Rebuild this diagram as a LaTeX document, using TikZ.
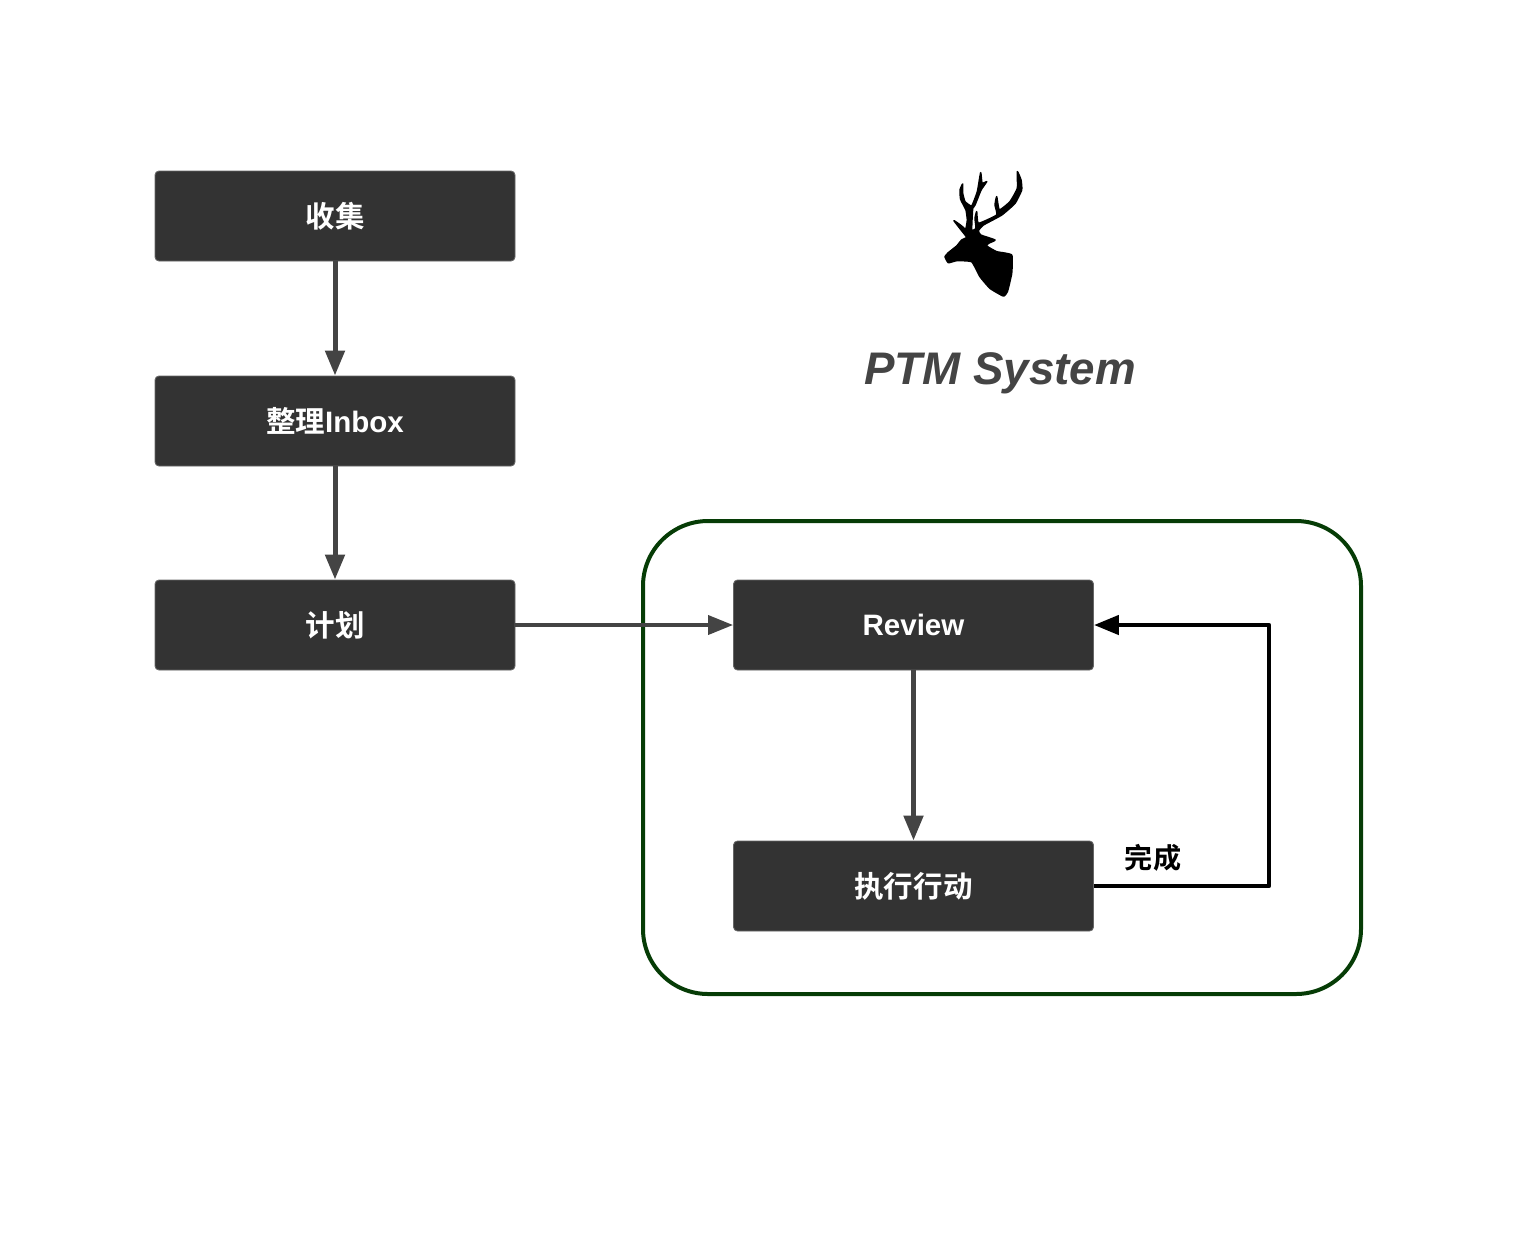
\documentclass[tikz,border=0pt]{standalone}
\usepackage{fontspec}
\usepackage{tikz}
\usetikzlibrary{arrows.meta,calc,positioning}
\setmainfont{Liberation Sans}
\newfontfamily\cjk[BoldFont=* Bold]{Noto Sans CJK SC}
\definecolor{ptmdark}{RGB}{51,51,51}
\definecolor{ptmedge}{RGB}{102,102,102}
\definecolor{ptmline}{RGB}{68,68,68}
\definecolor{ptmgreen}{RGB}{6,60,6}

\begin{document}
\begin{tikzpicture}[
      stepcard/.style={rounded corners=0.08cm, minimum width=7.2cm, minimum height=1.8cm, inner sep=0pt, draw=ptmedge, fill=ptmdark, line width=0.5pt, text=white, font=\fontsize{16.8}{20}\selectfont\bfseries},
      flow/.style={draw=ptmline, line width=0.1cm, -{Triangle[length=0.5cm, width=0.38cm]}},
      flowthin/.style={draw=ptmline, line width=0.075cm, -{Triangle[length=0.5cm, width=0.38cm]}},
      back/.style={draw=black, line width=0.09cm, line join=round, -{Triangle[length=0.5cm, width=0.38cm]}}
    ]
      \useasboundingbox (0, 0) rectangle (30.36, -24.64);

      % Group frame
      \node[draw=ptmgreen, line width=0.08cm, rounded corners=1.3cm, minimum width=14.36cm, minimum height=9.46cm, inner sep=0pt] (frame) at (20.04, -15.15) {};

      % Left column
      \node[stepcard] (collect) at (6.7, -4.32) {\cjk\raisebox{1.2pt}{收集}};
      \node[stepcard] (inbox) at (6.7, -8.42) {\raisebox{0.8pt}{{\cjk 整理}Inbox}};
      \node[stepcard] (plan) at (6.7, -12.5) {\cjk\raisebox{1.2pt}{计划}};

      % Right column
      \node[stepcard] (review) at (18.27, -12.5) {Review};
      \node[stepcard] (execute) at (18.27, -17.72) {\cjk\raisebox{0.6pt}{执行行动}};

      % Title and deer
      \node[font=\fontsize{26}{30}\selectfont\bfseries\itshape, text=ptmline] (title) at (20, -7.46) {PTM System};
      \begin{scope}[shift={(18.4, -3.2)}, x=0.00667cm, y=-0.00667cm]
        \filldraw[black, line width=0.03cm, line join=round] plot[smooth cycle, tension=0.25] coordinates {(75,290) (85,278) (110,258) (125,240) (140,232) (125,212) (102,182) (125,198) (137,208) (142,180) (138,150) (122,118) (120,90) (128,72) (128,100) (135,125) (155,138) (172,95) (182,38) (186,70) (200,65) (183,90) (165,135) (158,145) (155,210) (168,205) (165,175) (170,155) (175,190) (230,165) (225,135) (230,110) (238,150) (270,125) (292,85) (292,35) (303,60) (305,90) (285,130) (245,165) (190,195) (175,212) (182,225) (225,240) (205,250) (200,258) (230,275) (275,285) (275,340) (262,395) (250,408) (210,385) (180,350) (155,305) (110,302) (85,308)};
      \end{scope}

      % Connectors
      \draw[flow] (collect) -- (inbox);
      \draw[flow] (inbox) -- (plan);
      \draw[flowthin] (plan) -- (review);
      \draw[flow] (review) -- (execute);
      \coordinate (corner) at (25.38, -17.72);
      \draw[back] (execute) -- (corner) |- (review);

      \node[font=\fontsize{16}{20}\selectfont\bfseries, text=black] (done) at (23.06, -17.16) {\cjk 完成};
    \end{tikzpicture}
\end{document}
